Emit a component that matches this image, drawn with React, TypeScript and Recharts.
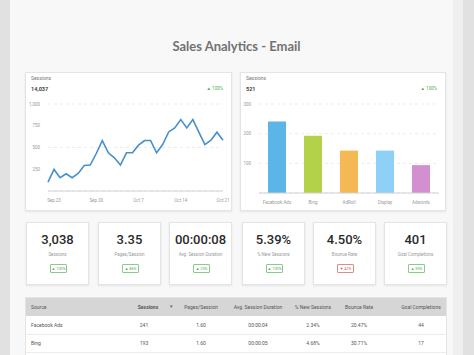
import React from "react";
import {LineChart, Line, BarChart, Bar, Cell, XAxis, YAxis, CartesianGrid} from "recharts";

const days = [
    "Sep 22", "Sep 23", "Sep 24", "Sep 25", "Sep 26", "Sep 27", "Sep 28", "Sep 29", "Sep 30", "Oct 1",
    "Oct 2", "Oct 3", "Oct 4", "Oct 5", "Oct 6", "Oct 7", "Oct 8", "Oct 9", "Oct 10", "Oct 11",
    "Oct 12", "Oct 13", "Oct 14", "Oct 15", "Oct 16", "Oct 17", "Oct 18", "Oct 19", "Oct 20", "Oct 21",
]
const dailySessions = [
    103, 248, 153, 198, 153, 202, 294, 298, 431, 580,
    439, 382, 298, 439, 439, 527, 580, 580, 439, 534,
    679, 725, 821, 725, 821, 676, 534, 584, 676, 584,
]
const dayTicks = ["Sep 23", "Sep 30", "Oct 7", "Oct 14", "Oct 21"]

const sources = ["Facebook Ads", "Bing", "AdRoll", "Display", "Adwords"]
const sourceSessions = [241, 193, 143, 143, 94]
const sourceColors = ["#5bb5e6", "#b3d24a", "#f4b955", "#8fd1f6", "#d390d0"]

const kpiValues = ["3,038", "3.35", "00:00:08", "5.39%", "4.50%", "401"]
const kpiLabels = ["Sessions", "Pages/Session", "Avg. Session Duration", "% New Sessions", "Bounce Rate", "Goal Completions"]
const kpiChanges = ["▲ 100%", "▲ 86%", "▲ 25%", "▲ 100%", "▼ 42%", "▲ 90%"]
const kpiGood = [true, true, true, true, false, true]

const tableHeaders = ["Source", "Sessions", "Pages/Session", "Avg. Session Duration", "% New Sessions", "Bounce Rate", "Goal Completions"]
const tableRows = [
    ["Facebook Ads", "241", "1.60", "00:00:04", "2.34%", "20.47%", "44"],
    ["Bing", "193", "1.60", "00:00:05", "4.68%", "30.71%", "17"],
]

const lineData = days.map((d, i) => ({day: d, sessions: dailySessions[i]}))
const barData = sources.map((s, i) => ({source: s, sessions: sourceSessions[i]}))

const font = "Roboto, 'Noto Sans', sans-serif"
const tickStyle = {fontSize: 4.5, fill: "#9a9a9a", fontFamily: font}

const card: React.CSSProperties = {
    position: "absolute",
    background: "#fff",
    border: "1px solid #e4e4e4",
    boxShadow: "0 1px 2px rgba(0,0,0,0.08)",
    boxSizing: "border-box",
}

const CardHead = ({title, value}: { title: string, value: string }) => <>
    <div style={{position: "absolute", left: 5, top: 2, fontSize: 5, color: "#777"}}>{title}</div>
    <div style={{position: "absolute", left: 5, top: 13, fontSize: 5.5, color: "#444", fontWeight: 700}}>{value}</div>
    <div style={{position: "absolute", right: 8, top: 13, fontSize: 4.5, color: "#4cae4c"}}>▲ 100%</div>
</>

const colX = [30, 147, 200, 257, 312, 358, 420]
const kpiLeft = [26, 98, 169, 242, 313, 384]

export default function App() {
    return <div style={{position: "fixed", left: 0, top: 0, width: 474, height: 355, overflow: "hidden", background: "#e1e1e1", fontFamily: font}}>
        <div style={{position: "absolute", left: 10, top: 0, width: 453, height: 355, background: "#f8f8f8"}}/>
        <div style={{position: "absolute", left: 453, top: 0, width: 10, height: 355, background: "#efefef"}}/>
        <div style={{position: "absolute", left: 10, width: 453, top: 38, textAlign: "center", fontFamily: "Lato, sans-serif", fontWeight: 700, fontSize: 13, color: "#727272"}}>
            Sales Analytics - Email
        </div>

        <div style={{...card, left: 25, top: 72, width: 207, height: 139}}>
            <CardHead title="Sessions" value="14,037"/>
            <div style={{position: "absolute", left: 0, top: 0}}>
                <LineChart width={207} height={135} data={lineData} margin={{top: 31, right: 10, bottom: 0, left: 0}}>
                    <CartesianGrid vertical={false} stroke="#ececec" strokeDasharray="3 3"/>
                    <XAxis dataKey="day" ticks={dayTicks} height={17} tick={tickStyle} tickLine={false}
                           axisLine={{stroke: "#d0d0d0"}}/>
                    <YAxis width={22} domain={[0, 1000]} ticks={[250, 500, 750, 1000]} tick={tickStyle}
                           tickLine={false} axisLine={false} tickFormatter={(v: number) => v.toLocaleString("en-US")}/>
                    <Line type="linear" dataKey="sessions" stroke="#4790cb" strokeWidth={1.6} dot={false}
                          isAnimationActive={false}/>
                </LineChart>
            </div>
        </div>

        <div style={{...card, left: 240, top: 72, width: 206, height: 139}}>
            <CardHead title="Sessions" value="521"/>
            <div style={{position: "absolute", left: 0, top: 0}}>
                <BarChart width={206} height={137} data={barData} margin={{top: 31, right: 8, bottom: 0, left: 0}}>
                    <CartesianGrid vertical={false} stroke="#ececec" strokeDasharray="3 3"/>
                    <XAxis dataKey="source" height={17} tick={tickStyle} tickLine={false} axisLine={{stroke: "#d0d0d0"}}
                           interval={0}/>
                    <YAxis width={18} domain={[0, 300]} ticks={[100, 200, 300]} tick={tickStyle} tickLine={false}
                           axisLine={false}/>
                    <Bar dataKey="sessions" barSize={18} isAnimationActive={false}>
                        {barData.map((d, i) => <Cell key={d.source} fill={sourceColors[i]}/>)}
                    </Bar>
                </BarChart>
            </div>
        </div>

        {kpiValues.map((v, i) => <div key={i} style={{...card, left: kpiLeft[i], top: 222, width: 63, height: 63}}>
            <div style={{position: "absolute", left: 0, right: 0, top: 9, textAlign: "center", fontSize: 13, fontWeight: 500, color: "#2a2a2a"}}>{v}</div>
            <div style={{position: "absolute", left: 0, right: 0, top: 29, textAlign: "center", fontSize: 4.5, color: "#999", whiteSpace: "nowrap"}}>{kpiLabels[i]}</div>
            <div style={{
                position: "absolute", left: 23, width: 17, top: 41, height: 9, boxSizing: "border-box",
                border: `1px solid ${kpiGood[i] ? "#8cc98c" : "#e08a8a"}`, borderRadius: 1, whiteSpace: "nowrap",
                color: kpiGood[i] ? "#4cae4c" : "#d9534f", fontSize: 3.8, textAlign: "center", lineHeight: "7px",
            }}>{kpiChanges[i]}</div>
        </div>)}

        <div style={{position: "absolute", left: 25, top: 297, width: 422, height: 62, background: "#fff", border: "1px solid #e4e4e4", boxSizing: "border-box"}}>
            <div style={{position: "absolute", left: 0, top: 0, width: 420, height: 18, background: "#d6d6d6"}}/>
            {[0, 1].map(r => <div key={r} style={{position: "absolute", left: 0, top: 36 + r * 18, width: 420, height: 1, background: "#ececec"}}/>)}
            {tableHeaders.map((h, c) => <div key={h} style={{
                position: "absolute", top: 6, fontSize: 5, color: "#555", fontWeight: c === 1 ? 700 : 400,
                left: colX[c] - 25, transform: c === 0 ? "none" : "translateX(-50%)", whiteSpace: "nowrap",
            }}>{h}</div>)}
            <div style={{position: "absolute", top: 6, left: 168 - 25, fontSize: 4.5, color: "#666"}}>▼</div>
            {tableRows.map((row, r) => row.map((cell, c) => <div key={r + "-" + c} style={{
                position: "absolute", top: 24 + r * 18, fontSize: 5, color: "#555",
                left: colX[c] - 25 - (c === 1 ? 4 : 0), transform: c === 0 ? "none" : "translateX(-50%)", whiteSpace: "nowrap",
            }}>{cell}</div>))}
        </div>
    </div>
}
